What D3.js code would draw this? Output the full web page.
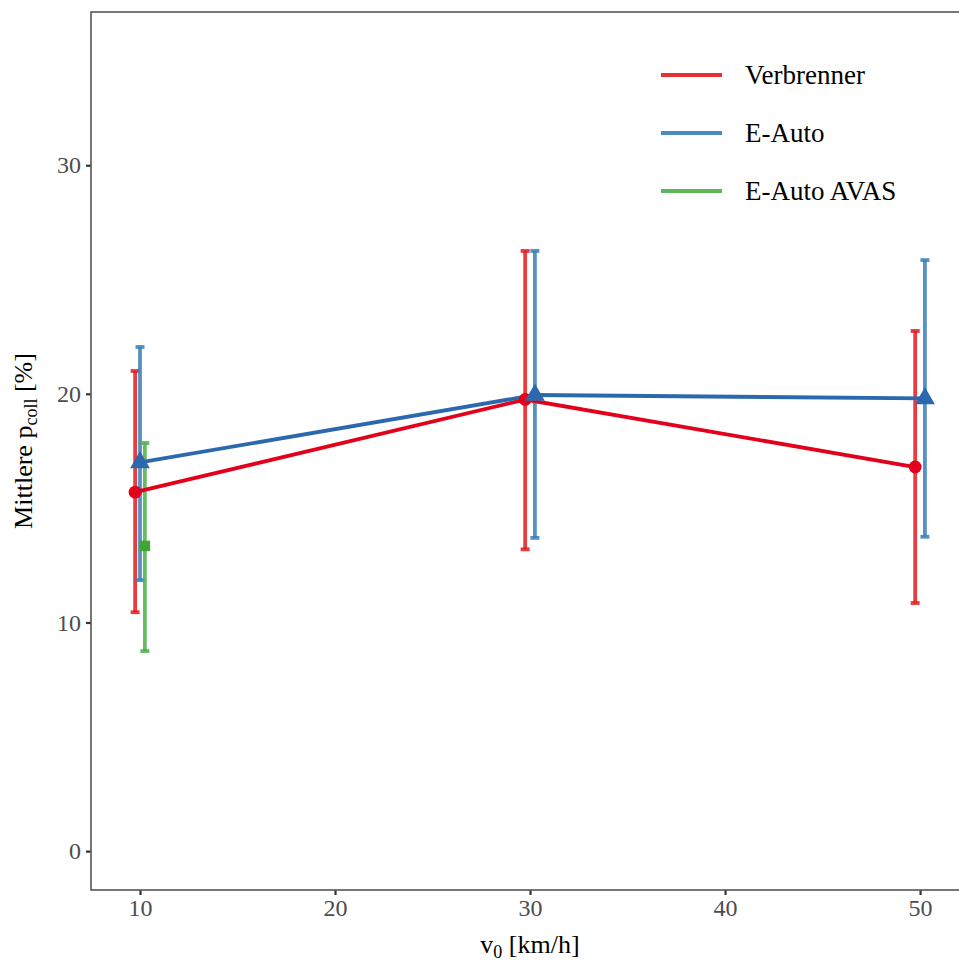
<!DOCTYPE html>
<html>
<head>
<meta charset="utf-8">
<script src="https://cdn.jsdelivr.net/npm/d3@7"></script>
<style>
  body { margin: 0; background: #fff; }
  svg { display: block; font-family: "Liberation Serif", "Times New Roman", serif; }
  .tick text { fill: #4d4d4d; }
  .tick line { stroke: #333; stroke-width: 2.2; }
</style>
</head>
<body>
<div id="chart"></div>
<script>
//- Data
const speeds = [10, 30, 50];
const seriesNames = ["Verbrenner", "E-Auto", "E-Auto AVAS"];

const verbrennerMean = [15.7, 19.75, 16.8];
const verbrennerLow = [10.45, 13.2, 10.85];
const verbrennerHigh = [21.0, 26.25, 22.75];

const eautoMean = [17.0, 19.95, 19.8];
const eautoLow = [11.85, 13.7, 13.75];
const eautoHigh = [22.05, 26.25, 25.85];

const avasMean = [13.35, null, null];
const avasLow = [8.75, null, null];
const avasHigh = [17.85, null, null];

const xTicks = [10, 20, 30, 40, 50];
const yTicks = [0, 10, 20, 30];

//- Styles
const lineColors = ["#e2001a", "#2c68ad", "#3fa535"];
const barColors = ["#e41a1c", "#377eb8", "#4daf4a"];
const shapes = [d3.symbolCircle, d3.symbolTriangle, d3.symbolSquare];
const shapeSizes = [130, 170, 110];

const W = 959, H = 961;
const panel = { left: 91, top: 12, right: 969, bottom: 890 };
const serif = '"Liberation Serif", "Times New Roman", serif';

const svg = d3.select("#chart").append("svg")
    .attr("width", W)
    .attr("height", H);

const x = d3.scaleLinear().domain([7.487, 52.51]).range([panel.left, panel.right]);
const y = d3.scaleLinear().domain([-1.7, 36.7]).range([panel.bottom, panel.top]);

//- Assemble series; dodge depends on how many groups share a speed
const raw = [
    { mean: verbrennerMean, low: verbrennerLow, high: verbrennerHigh },
    { mean: eautoMean, low: eautoLow, high: eautoHigh },
    { mean: avasMean, low: avasLow, high: avasHigh }
];

const dodgeWidth = 0.5;
const series = raw.map((s, i) => ({ name: seriesNames[i], idx: i, points: [] }));

speeds.forEach((v, j) => {
    let present = raw.map((s, i) => i).filter(i => raw[i].mean[j] != null);
    let n = present.length;
    present.forEach((i, k) => {
        let offset = n > 1 ? -dodgeWidth / 2 + k * dodgeWidth / (n - 1) : 0;
        series[i].points.push({ x: v + offset, mean: raw[i].mean[j], low: raw[i].low[j], high: raw[i].high[j] });
    });
});

//- Axes
const xAxis = d3.axisBottom(x).tickValues(xTicks).tickSize(5).tickPadding(4);
const yAxis = d3.axisLeft(y).tickValues(yTicks).tickSize(5).tickPadding(5);

svg.append("g")
    .attr("transform", `translate(0, ${panel.bottom})`)
    .call(xAxis)
    .attr("font-family", serif)
    .attr("font-size", 24)
    .call(g => g.select(".domain").remove());

svg.append("g")
    .attr("transform", `translate(${panel.left}, 0)`)
    .call(yAxis)
    .attr("font-family", serif)
    .attr("font-size", 24)
    .call(g => g.select(".domain").remove());

//- Panel border
svg.append("rect")
    .attr("x", panel.left)
    .attr("y", panel.top)
    .attr("width", panel.right - panel.left)
    .attr("height", panel.bottom - panel.top)
    .attr("fill", "none")
    .attr("stroke", "#555")
    .attr("stroke-width", 1.6);

//- Error bars
const capHalf = 4.5;
const barGroup = svg.append("g");
series.forEach(s => {
    let g = barGroup.append("g")
        .attr("stroke", barColors[s.idx])
        .attr("stroke-opacity", 0.85)
        .attr("stroke-width", 3.8);

    s.points.forEach(p => {
        g.append("line")
            .attr("x1", x(p.x)).attr("x2", x(p.x))
            .attr("y1", y(p.low)).attr("y2", y(p.high));
        [p.low, p.high].forEach(v => {
            g.append("line")
                .attr("x1", x(p.x) - capHalf).attr("x2", x(p.x) + capHalf)
                .attr("y1", y(v)).attr("y2", y(v));
        });
    });
});

//- Lines
const line = d3.line().x(d => x(d.x)).y(d => y(d.mean));
series.forEach(s => {
    if (s.points.length > 1) {
        svg.append("path")
            .datum(s.points)
            .attr("d", line)
            .attr("fill", "none")
            .attr("stroke", lineColors[s.idx])
            .attr("stroke-width", 3.8);
    }
});

//- Points
series.forEach(s => {
    svg.append("g").selectAll("path")
        .data(s.points)
        .enter()
        .append("path")
        .attr("transform", d => `translate(${x(d.x)}, ${y(d.mean)})`)
        .attr("d", d3.symbol().type(shapes[s.idx]).size(shapeSizes[s.idx]))
        .attr("fill", lineColors[s.idx]);
});

//- Legend
const legend = svg.append("g").attr("transform", "translate(661, 75)");
seriesNames.forEach((name, i) => {
    let row = legend.append("g").attr("transform", `translate(0, ${i * 58})`);
    row.append("line")
        .attr("x1", 0).attr("x2", 61)
        .attr("y1", 0).attr("y2", 0)
        .attr("stroke", barColors[i])
        .attr("stroke-opacity", 0.9)
        .attr("stroke-width", 3.8);
    row.append("text")
        .attr("x", 84)
        .attr("y", 9)
        .attr("font-size", 27)
        .attr("fill", "#000")
        .text(name);
});

//- Axis titles
const xTitle = svg.append("text")
    .attr("x", 530)
    .attr("y", 953)
    .attr("text-anchor", "middle")
    .attr("font-size", 26);
xTitle.append("tspan").text("v");
xTitle.append("tspan").attr("font-size", 18).attr("dy", 5).text("0");
xTitle.append("tspan").attr("dy", -5).text(" [km/h]");

const yTitle = svg.append("text")
    .attr("transform", `translate(32, ${(panel.top + panel.bottom) / 2 - 10}) rotate(-90)`)
    .attr("text-anchor", "middle")
    .attr("font-size", 26);
yTitle.append("tspan").text("Mittlere p");
yTitle.append("tspan").attr("font-size", 18).attr("dy", 5).text("coll");
yTitle.append("tspan").attr("dy", -5).text(" [%]");
</script>
</body>
</html>
